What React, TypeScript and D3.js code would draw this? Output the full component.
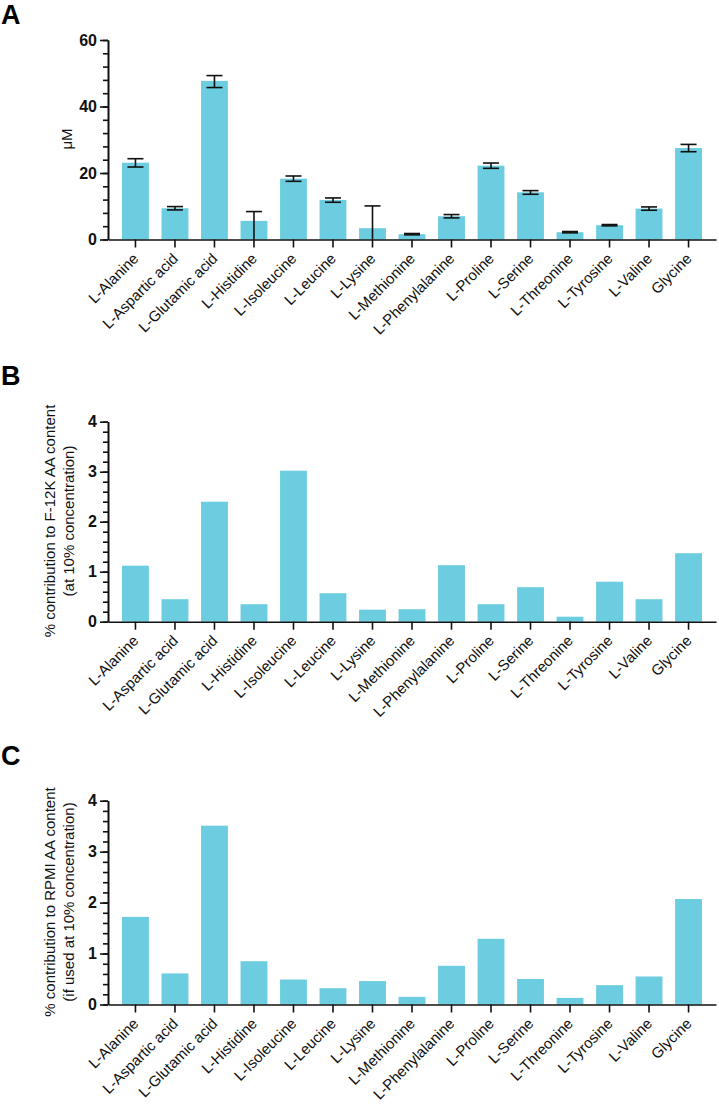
import React, { useRef, useEffect } from 'react';
import * as d3 from 'd3';

const AMINO_ACIDS = [
    "L-Alanine", "L-Aspartic acid", "L-Glutamic acid", "L-Histidine", "L-Isoleucine",
    "L-Leucine", "L-Lysine", "L-Methionine", "L-Phenylalanine", "L-Proline",
    "L-Serine", "L-Threonine", "L-Tyrosine", "L-Valine", "Glycine"
];

// panel A: concentration (uM), mean with error bar bounds
const CONC_MEAN = [23.1, 9.4, 47.7, 5.6, 18.3, 11.9, 3.4, 1.6, 7.0, 22.2, 14.2, 2.2, 4.3, 9.3, 27.5];
const CONC_UPPER = [24.3, 9.9, 49.3, 8.4, 19.1, 12.5, 10.1, 1.8, 7.5, 23.0, 14.7, 2.4, 4.5, 9.8, 28.6];
const CONC_LOWER = [21.8, 8.9, 45.7, 0, 17.5, 11.2, 0, 1.4, 6.5, 21.4, 13.6, 2.0, 4.1, 8.8, 26.4];

// panel B: % contribution to F-12K
const F12K_PCT = [1.12, 0.45, 2.40, 0.35, 3.02, 0.57, 0.24, 0.25, 1.13, 0.35, 0.69, 0.10, 0.80, 0.45, 1.37];

// panel C: % contribution to RPMI
const RPMI_PCT = [1.72, 0.61, 3.51, 0.85, 0.49, 0.32, 0.46, 0.15, 0.76, 1.29, 0.50, 0.13, 0.38, 0.55, 2.07];

const TICKS_A = [0, 20, 40, 60];
const TICKS_BC = [0, 1, 2, 3, 4];

const BAR_COLOR = "#6dcde0";
const FONT = "'Liberation Sans', Arial, sans-serif";

interface PanelSpec {
    letter: string;
    letterY: number;
    yTop: number;
    yZero: number;
    max: number;
    ticks: number[];
    minorStep: number;
    values: number[];
    upper?: number[];
    lower?: number[];
    labelLines: string[];
    labelX: number[];
    labelCenterY: number;
}

const App: React.FC = () => {
    const svgRef = useRef<SVGSVGElement>(null);

    useEffect(() => {
        if (!svgRef.current) return;
        const svg = d3.select(svgRef.current);
        svg.selectAll("*").remove();

        const xScale = d3.scaleBand<string>()
            .domain(AMINO_ACIDS)
            .range([108, 716])
            .paddingInner(0.32)
            .paddingOuter(0.355);

        const panels: PanelSpec[] = [
            {
                letter: "A", letterY: 24, yTop: 40, yZero: 239.5, max: 60, ticks: TICKS_A, minorStep: 4,
                values: CONC_MEAN, upper: CONC_UPPER, lower: CONC_LOWER,
                labelLines: ["μM"], labelX: [72], labelCenterY: 139
            },
            {
                letter: "B", letterY: 385, yTop: 421.7, yZero: 621.7, max: 4, ticks: TICKS_BC, minorStep: 0.2,
                values: F12K_PCT,
                labelLines: ["% contribution to F-12K AA content", "(at 10% concentration)"],
                labelX: [55, 74], labelCenterY: 521
            },
            {
                letter: "C", letterY: 765, yTop: 800.7, yZero: 1004.5, max: 4, ticks: TICKS_BC, minorStep: 0.2,
                values: RPMI_PCT,
                labelLines: ["% contribution to RPMI AA content", "(if used at 10% concentration)"],
                labelX: [55, 74], labelCenterY: 902
            }
        ];

        panels.forEach(p => {
            const g = svg.append("g");
            const yScale = d3.scaleLinear().domain([0, p.max]).range([p.yZero, p.yTop]);

            g.append("text")
                .attr("x", 1)
                .attr("y", p.letterY)
                .style("font-family", FONT)
                .style("font-weight", "bold")
                .style("font-size", "27px")
                .text(p.letter);

            // bars
            g.selectAll("rect.bar")
                .data(p.values)
                .join("rect")
                .attr("class", "bar")
                .attr("x", (_, i) => xScale(AMINO_ACIDS[i])!)
                .attr("y", d => yScale(d))
                .attr("width", xScale.bandwidth())
                .attr("height", d => yScale(0) - yScale(d))
                .attr("fill", BAR_COLOR);

            // error bars
            if (p.upper && p.lower) {
                const up = p.upper;
                const lo = p.lower;
                const eb = g.append("g").attr("stroke", "#111").attr("stroke-width", 1.6);
                p.values.forEach((_, i) => {
                    const cx = xScale(AMINO_ACIDS[i])! + xScale.bandwidth() / 2;
                    const y1 = yScale(up[i]);
                    const y0 = yScale(Math.max(0, lo[i]));
                    eb.append("line").attr("x1", cx).attr("x2", cx).attr("y1", y1).attr("y2", y0);
                    eb.append("line").attr("x1", cx - 8).attr("x2", cx + 8).attr("y1", y1).attr("y2", y1);
                    if (lo[i] > 0) {
                        eb.append("line").attr("x1", cx - 8).attr("x2", cx + 8).attr("y1", y0).attr("y2", y0);
                    }
                });
            }

            // minor y ticks
            const minorTicks = d3.range(0, p.max + p.minorStep / 2, p.minorStep);
            g.append("g")
                .attr("transform", "translate(108,0)")
                .call(d3.axisLeft(yScale).tickValues(minorTicks).tickSize(5).tickSizeOuter(0).tickFormat(() => ""))
                .call(s => s.selectAll("line,path").attr("stroke", "#111").attr("stroke-width", 1.6));

            // major y ticks
            g.append("g")
                .attr("transform", "translate(108,0)")
                .call(d3.axisLeft(yScale).tickValues(p.ticks).tickSize(8).tickSizeOuter(0).tickPadding(3).tickFormat(d3.format("d")))
                .call(s => s.selectAll("line,path").attr("stroke", "#111").attr("stroke-width", 1.6))
                .call(s => s.selectAll("text")
                    .attr("fill", "#111")
                    .style("font-family", FONT)
                    .style("font-weight", "bold")
                    .style("font-size", "16px"));

            // x axis
            g.append("g")
                .attr("transform", `translate(0,${p.yZero})`)
                .call(d3.axisBottom(xScale).tickSize(8).tickSizeOuter(0))
                .call(s => s.selectAll("line,path").attr("stroke", "#111").attr("stroke-width", 1.6))
                .call(s => s.selectAll("text")
                    .attr("fill", "#111")
                    .attr("x", 0)
                    .attr("y", 0)
                    .attr("dy", 0)
                    .attr("transform", "translate(4,20) rotate(-45)")
                    .style("text-anchor", "end")
                    .style("font-family", FONT)
                    .style("font-size", "15px"));

            // y label
            p.labelLines.forEach((line, i) => {
                g.append("text")
                    .attr("transform", `translate(${p.labelX[i]},${p.labelCenterY}) rotate(-90)`)
                    .style("text-anchor", "middle")
                    .style("font-family", FONT)
                    .style("font-size", "15px")
                    .attr("fill", "#111")
                    .text(line);
            });
        });
    }, []);

    return (
        <div style={{ position: 'absolute', left: 0, top: 0, width: 719, height: 1111, background: '#fff' }}>
            <svg ref={svgRef} width={719} height={1111} style={{ display: 'block' }} />
        </div>
    );
};

export default App;
